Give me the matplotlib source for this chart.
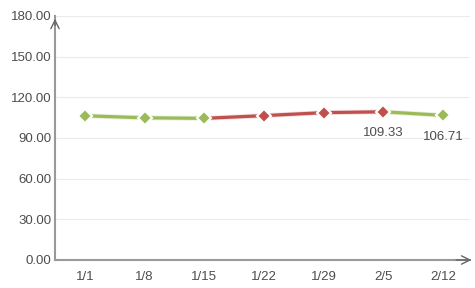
import matplotlib
matplotlib.use("Agg")
import matplotlib.pyplot as plt
import matplotlib.patheffects as pe

plt.rcParams['font.family'] = ['Liberation Sans', 'DejaVu Sans']

categories = ["1/1", "1/8", "1/15", "1/22", "1/29", "2/5", "2/12"]
values = [106.4, 104.9, 104.5, 106.5, 108.7, 109.33, 106.71]
label_values = {5: "109.33", 6: "106.71"}
yticks = [0, 30, 60, 90, 120, 150, 180]

GREEN = "#9BBB59"
RED = "#C0504D"
TXT = "#4d4d4d"
AX = "#999999"

fig = plt.figure(figsize=(4.75, 2.88), dpi=100)
ax = fig.add_axes([55/475, 28/288, 415/475, 244/288])
x = list(range(len(categories)))

for i in range(len(x) - 1):
    c = RED if values[i + 1] > values[i] else GREEN
    ax.plot(x[i:i+2], values[i:i+2], color=c, lw=2.3, solid_capstyle='butt', zorder=3,
            path_effects=[pe.Stroke(linewidth=3.5, foreground='#f4dede' if c == RED else '#e8f0d8'), pe.Normal()])
for i in range(len(x)):
    if i == 0:
        c = GREEN
    else:
        c = RED if values[i] > values[i-1] else GREEN
    ax.plot(x[i], values[i], marker='D', ms=7.5, color=c, mec='white', mew=1.5, zorder=4)

for i, s in label_values.items():
    ax.annotate(s, (x[i], values[i]), xytext=(0, -15.5), textcoords='offset points',
                ha='center', va='center', fontsize=9.5, color=TXT)

ax.set_xlim(-0.5, 6.45)
ax.set_ylim(0, 180)
ax.set_yticks(yticks)
ax.set_yticklabels([f"{v:.2f}" for v in yticks])
ax.set_xticks(x)
ax.set_xticklabels(categories)
ax.tick_params(axis='both', length=0, labelsize=9.5, labelcolor=TXT)
ax.tick_params(axis='y', pad=2.5)
ax.tick_params(axis='x', pad=8)
ax.grid(axis='y', color='#ebebeb', lw=0.8)
ax.set_axisbelow(True)
for s in ['top', 'right']:
    ax.spines[s].set_visible(False)
for s in ['left', 'bottom']:
    ax.spines[s].set_color(AX)
    ax.spines[s].set_linewidth(1.5)

# arrows
ax.annotate('', xy=(0, 1.0), xytext=(0, 0.95), xycoords='axes fraction',
            arrowprops=dict(arrowstyle='->,head_length=0.6,head_width=0.3', color='#666666', lw=1.0))
ax.annotate('', xy=(1.01, 0), xytext=(0.96, 0), xycoords='axes fraction',
            arrowprops=dict(arrowstyle='->,head_length=0.6,head_width=0.3', color='#666666', lw=1.0),
            annotation_clip=False)

fig.savefig("out.png", dpi=100)
